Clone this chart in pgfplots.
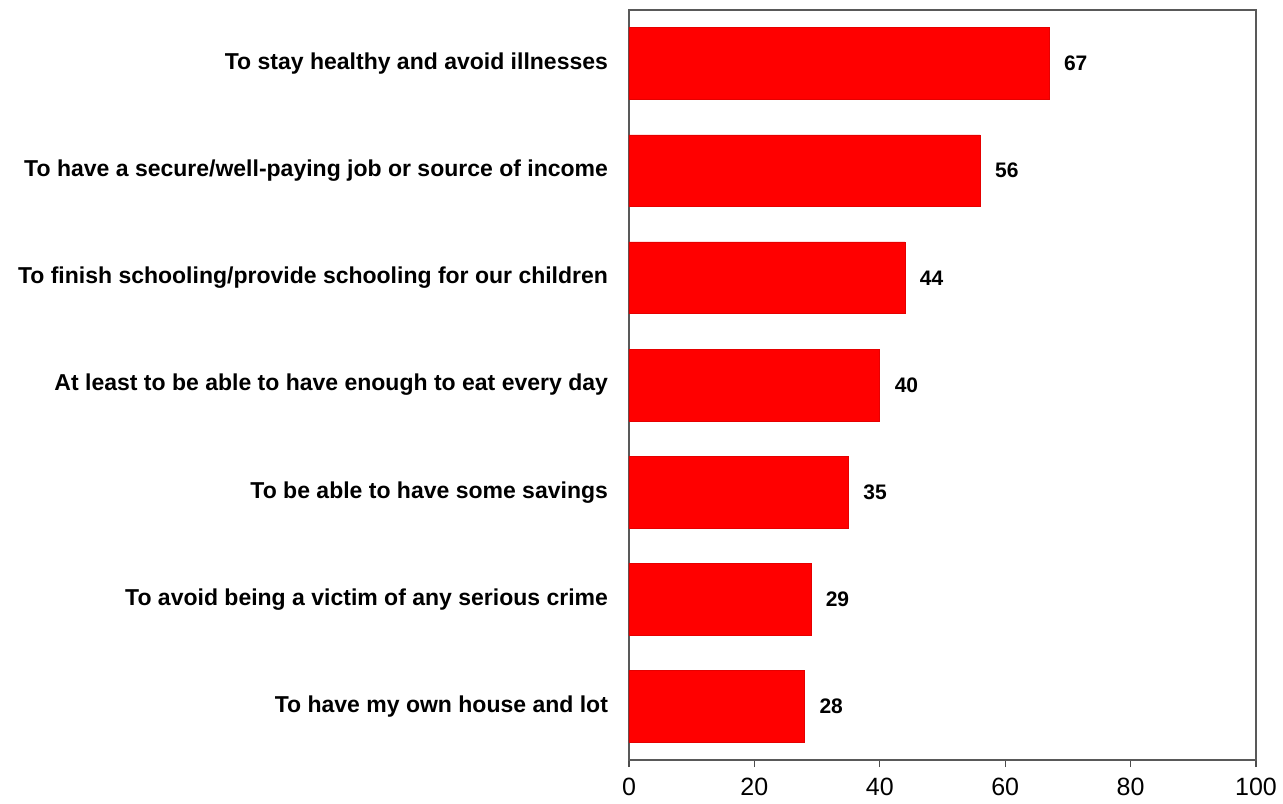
\documentclass[border=0pt]{standalone}
\usepackage{pgfplots}
\pgfplotsset{compat=1.18}
\usepackage{fontspec}
\setmainfont{Liberation Sans}
\begin{document}
\begin{tikzpicture}
\useasboundingbox (-314.5pt,-21.5pt) rectangle (327pt,380pt);
\begin{axis}[
  at={(0pt,0pt)}, anchor=south west,
  scale only axis,
  width=313.5pt, height=375pt,
  xbar, bar width=0.67,
  xmin=0, xmax=100,
  ymin=0.5, ymax=7.5,
  y dir=reverse,
  xtick={0,20,40,60,80,100},
  ytick={1,2,3,4,5,6,7},
  xtick pos=bottom,
  yticklabels={To stay healthy and avoid illnesses,
    To have a secure/well-paying job or source of income,
    To finish schooling/provide schooling for our children,
    At least to be able to have enough to eat every day,
    To be able to have some savings,
    To avoid being a victim of any serious crime,
    To have my own house and lot},
  yticklabel style={font=\fontsize{11.5}{13}\selectfont\bfseries, xshift=-3.5pt},
  xticklabel style={font=\fontsize{12.5}{14}\selectfont, yshift=-2pt},
  /pgf/number format/assume math mode=true,
  tick align=outside,
  major tick length=3.5pt,
  ytick style={draw=none},
  xtick style={black!70, line width=0.6pt},
  axis line style={black!65, line width=0.7pt},
  nodes near coords,
  every node near coord/.append style={font=\fontsize{10.5}{12}\selectfont\bfseries, xshift=4pt},
  point meta=x,
]
\addplot[fill=red, draw=red!90!black, line width=0.3pt] coordinates {
  (67,1) (56,2) (44,3) (40,4) (35,5) (29,6) (28,7)
};
\end{axis}
\end{tikzpicture}
\end{document}
